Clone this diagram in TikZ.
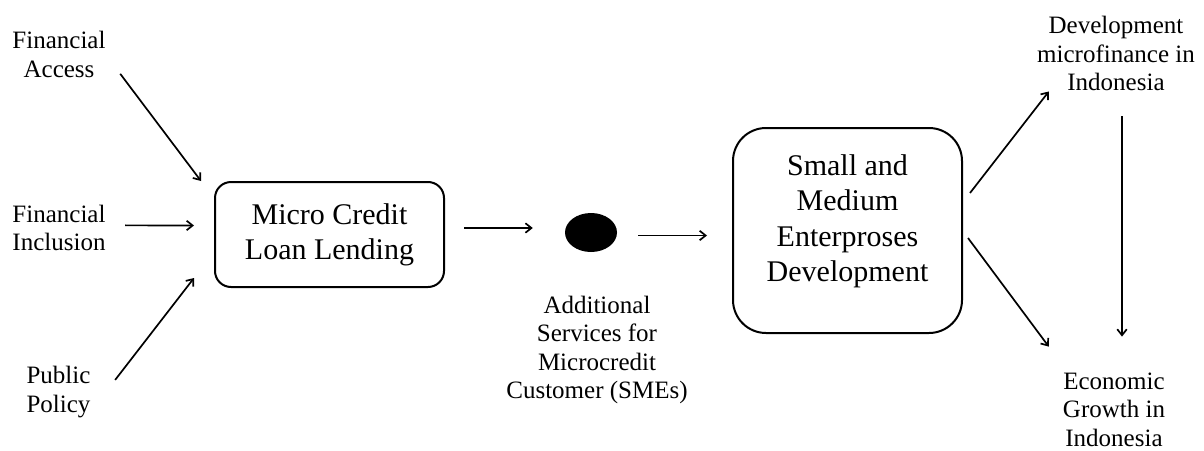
\documentclass[tikz,border=0pt]{standalone}
\usepackage{fontspec}
\setmainfont{Liberation Serif}
\usetikzlibrary{arrows.meta,shapes.geometric,calc}

\tikzset{
  lbl/.style={anchor=north, align=center, inner sep=0pt,
    font=\fontsize{25}{28.3}\selectfont},
  boxtext/.style={align=center, inner sep=0pt,
    font=\fontsize{30}{35.3}\selectfont},
  roundbox/.style={draw, line width=2pt, inner sep=0pt},
  arr/.style={line width=1.7pt, -{Straight Barb[length=6pt,width=9.5pt,line width=1.7pt]}},
}

\begin{document}
\begin{tikzpicture}[x=1pt, y=-1pt]
  \useasboundingbox (0,0) rectangle (1204,450);

  % inputs on the left
  \node[lbl] (fa) at (59,31.2)   {Financial\\Access};
  \node[lbl] (fi) at (59,204.6)  {Financial\\Inclusion};
  \node[lbl] (pp) at (58.5,366.2) {Public\\Policy};

  % central lending box
  \node[roundbox, boxtext, rounded corners=16pt,
        minimum width=229pt, minimum height=105pt] (mcl) at (329.5,234.5)
        {Micro Credit\\Loan Lending};

  % additional services marker and its caption
  \node[ellipse, fill=black, inner sep=0pt,
        minimum width=52pt, minimum height=39pt] (dot) at (591,232.5) {};
  \node[lbl] (add) at (597,295.9)
        {Additional\\Services for\\Microcredit\\Customer (SMEs)};

  % SME development box
  \node[roundbox, rounded corners=33pt,
        minimum width=229pt, minimum height=205pt] (sme) at (847.5,230.5) {};
  \node[boxtext, anchor=north] (smetext) at (847.5,154.5)
        {Small and\\Medium\\Enterproses\\Development};

  % outcomes on the right
  \node[lbl] (dev) at (1116,16.2)  {Development\\microfinance in\\Indonesia};
  \node[lbl] (eco) at (1114,372.9) {Economic\\Growth in\\Indonesia};

  % connectors
  \draw[arr] ($(fa.south east)+(14.5,-3.7)$) -- ($(mcl.north west)+(-13,0)$);
  \draw[arr] ($(fi.east)+(19.5,-2.4)$) -- ($(mcl.west)+(-20,-9)$);
  \draw[arr] ($(pp.east)+(24.5,-12)$) -- ($(mcl.south west)+(-20,-10)$);
  \draw[arr] ($(mcl.east)+(19,-6.5)$) -- ($(dot.west)+(-32,-4.5)$);
  \draw[arr] ($(dot.east)+(21,3)$) -- ($(sme.west)+(-25,5)$);
  \draw[arr] ($(sme.east)+(7,-37.5)$) -- ($(dev.south west)+(11.8,0.7)$);
  \draw[arr] ($(sme.east)+(5,7.5)$) -- ($(eco.north west)+(-14,-26.3)$);
  \draw[arr] ($(dev.south)+(6,25.7)$) -- ($(eco.north)+(8,-36.3)$);
\end{tikzpicture}
\end{document}
